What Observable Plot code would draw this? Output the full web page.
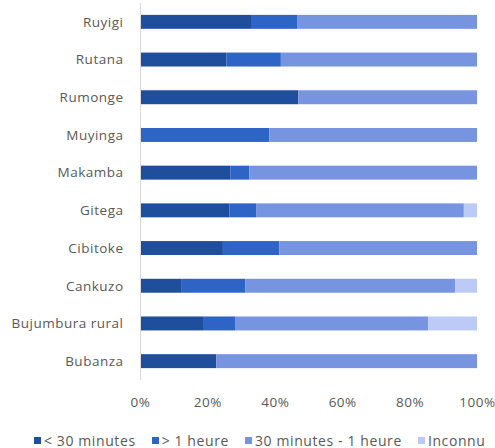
<!DOCTYPE html>
<html>
<head>
<meta charset="utf-8">
<script src="https://cdn.jsdelivr.net/npm/d3@7"></script>
<script src="https://cdn.jsdelivr.net/npm/@observablehq/plot@0.6"></script>
<style>
  html, body { margin: 0; padding: 0; background: #fff; }
  #chart { width: 495px; }
  .legend { display: flex; justify-content: flex-start; align-items: center;
    font-family: "Open Sans", sans-serif; font-size: 14px; letter-spacing: 0.6px; color: #595959;
    height: 24px; padding-left: 34px; box-sizing: border-box; width: 495px; white-space: nowrap; }
  .legend span.item { display: inline-flex; align-items: center; margin-right: 16px; }
  .legend span.item:last-child { margin-right: 0; }
  .legend span.sw { display: inline-block; width: 7px; height: 7px; margin-right: 3px; }
</style>
</head>
<body>
<div id="chart"></div>
<script>
const categories = ["Ruyigi", "Rutana", "Rumonge", "Muyinga", "Makamba", "Gitega", "Cibitoke", "Cankuzo", "Bujumbura rural", "Bubanza"];
const seriesNames = ["< 30 minutes", "> 1 heure", "30 minutes - 1 heure", "Inconnu"];
const lessThan30 = [33.2, 25.6, 47.0, 0, 26.9, 26.5, 24.6, 12.4, 18.7, 22.6];
const moreThan1h = [13.4, 16.2, 0, 38.4, 5.5, 8.1, 16.7, 18.8, 9.5, 0];
const between30and1h = [53.4, 58.2, 53.0, 61.6, 67.6, 61.5, 58.7, 62.4, 57.3, 77.4];
const unknown = [0, 0, 0, 0, 0, 3.9, 0, 6.4, 14.5, 0];
const colors = ["#1F4E9D", "#2E64C5", "#7794E0", "#BCCBF5"];
const xTicks = [0, 20, 40, 60, 80, 100];

const seriesValues = [lessThan30, moreThan1h, between30and1h, unknown];
const data = [];
categories.forEach((c, i) => {
  seriesNames.forEach((s, j) => {
    data.push({ region: c, series: s, value: seriesValues[j][i] });
  });
});

const chart = Plot.plot({
  width: 495,
  height: 428,
  marginLeft: 140,
  marginRight: 18,
  marginTop: 3,
  marginBottom: 48,
  style: { fontFamily: "Open Sans, sans-serif", fontSize: "13.5px", letterSpacing: "0.5px", color: "#595959", background: "#fff" },
  x: { domain: [0, 100], ticks: xTicks, tickFormat: d => d + "%", tickSize: 0, tickPadding: 17, label: null },
  y: { domain: categories, paddingInner: 0.63, paddingOuter: 0.315, round: false, tickSize: 0, tickPadding: 17, label: null },
  color: { domain: seriesNames, range: colors },
  marks: [
    Plot.barX(data, Plot.stackX({ order: seriesNames, x: "value", y: "region", fill: "series" })),
    Plot.ruleX([0], { stroke: "#d9d9d9", strokeWidth: 1 })
  ]
});
document.getElementById("chart").appendChild(chart);

const legend = document.createElement("div");
legend.className = "legend";
seriesNames.forEach((s, j) => {
  const item = document.createElement("span");
  item.className = "item";
  const sw = document.createElement("span");
  sw.className = "sw";
  sw.style.background = colors[j];
  item.appendChild(sw);
  item.appendChild(document.createTextNode(s));
  legend.appendChild(item);
});
document.getElementById("chart").appendChild(legend);
</script>
</body>
</html>
